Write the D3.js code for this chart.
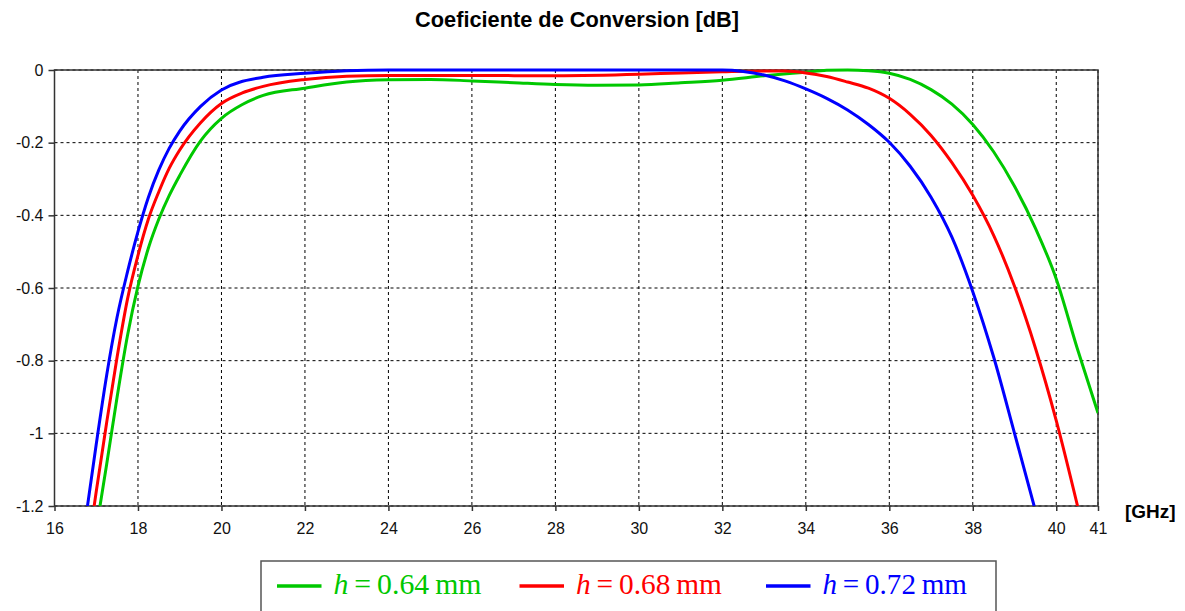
<!DOCTYPE html>
<html><head><meta charset="utf-8">
<script src="https://cdn.jsdelivr.net/npm/d3@7"></script>
<style>body{margin:0;background:#fff}svg{display:block}</style>
</head><body>
<svg id="c" width="1185" height="611"></svg>
<script>
const title = "Coeficiente de Conversion [dB]";
const xUnit = "[GHz]";
const xTicks = [16,18,20,22,24,26,28,30,32,34,36,38,40,41];
const yTicks = [0,-0.2,-0.4,-0.6,-0.8,-1,-1.2];
const seriesNames = ["0.64","0.68","0.72"];
const seriesColors = ["#00c800","#ff0000","#0000ff"];

const freqGreen = [17.09,17.25,17.5,17.75,18.0,18.25,18.5,18.75,19.0,19.5,20,20.5,21,22,23,24,25,26,27,28,29,30,31,32,33,34,34.5,35,35.5,36,36.5,37,37.5,38,38.5,39,39.5,40,40.5,41];
const valGreen  = [-1.2,-1.085,-0.9,-0.73,-0.595,-0.49,-0.41,-0.345,-0.29,-0.195,-0.133,-0.095,-0.07,-0.05,-0.033,-0.027,-0.026,-0.03,-0.035,-0.04,-0.042,-0.041,-0.035,-0.028,-0.016,-0.006,-0.001,0,-0.002,-0.009,-0.026,-0.054,-0.094,-0.15,-0.225,-0.32,-0.435,-0.575,-0.765,-0.944];

const freqRed = [16.95,17.0,17.25,17.5,17.75,18.0,18.25,18.5,18.75,19.0,19.5,20,20.5,21,22,23,24,26,28,30,31,32,33,33.5,34,34.5,35,35.5,36,36.5,37,37.5,38,38.5,39,39.5,40,40.51];
const valRed  = [-1.2,-1.16,-0.97,-0.79,-0.63,-0.51,-0.41,-0.335,-0.27,-0.22,-0.145,-0.092,-0.063,-0.045,-0.026,-0.017,-0.015,-0.015,-0.016,-0.012,-0.008,-0.005,-0.003,-0.003,-0.008,-0.018,-0.033,-0.05,-0.078,-0.122,-0.18,-0.255,-0.345,-0.455,-0.595,-0.765,-0.965,-1.2];

const freqBlue = [16.79,17.0,17.25,17.5,17.75,18.0,18.25,18.5,18.75,19.0,19.5,20,21,22,23,24,26,28,30,31,32,32.5,33,33.5,34,34.5,35,35.5,36,36.5,37,37.5,38,38.5,39,39.47];
const valBlue  = [-1.2,-1.03,-0.84,-0.68,-0.555,-0.445,-0.35,-0.275,-0.215,-0.168,-0.1,-0.055,-0.02,-0.009,-0.002,0,0,0,0,0,0,-0.004,-0.014,-0.03,-0.052,-0.078,-0.11,-0.15,-0.199,-0.265,-0.35,-0.46,-0.61,-0.79,-1.0,-1.2];

const series = [
  {name: seriesNames[0], color: seriesColors[0], f: freqGreen, v: valGreen},
  {name: seriesNames[1], color: seriesColors[1], f: freqRed, v: valRed},
  {name: seriesNames[2], color: seriesColors[2], f: freqBlue, v: valBlue}
];

const svg = d3.select("#c");
const L = 54.5, R = 1098, T = 70, B = 506;
const x = d3.scaleLinear().domain([16,41]).range([L,R]);
const y = d3.scaleLinear().domain([0,-1.2]).range([T,B]);

function fitWidth(sel, target){
  const w = sel.node().getComputedTextLength();
  const fs = parseFloat(sel.attr("font-size"));
  sel.attr("font-size", fs*target/w);
}

// title
const tt = svg.append("text").attr("x",577).attr("y",27).attr("text-anchor","middle")
  .attr("font-family","Liberation Sans, Arial, sans-serif").attr("font-weight","bold")
  .attr("font-size",18).attr("fill","#000").text(title);
fitWidth(tt, 324);

// grid
const grid = svg.append("g");
grid.selectAll("line.gx").data(xTicks).join("line").attr("class","gx")
  .attr("x1",d=>x(d)).attr("x2",d=>x(d)).attr("y1",T).attr("y2",B)
  .attr("stroke","#000").attr("stroke-width",1).attr("stroke-dasharray","3,3");
grid.selectAll("line.gy").data(yTicks).join("line").attr("class","gy")
  .attr("x1",L).attr("x2",R).attr("y1",d=>y(d)).attr("y2",d=>y(d))
  .attr("stroke","#000").attr("stroke-width",1).attr("stroke-dasharray","3,3");

// axes
const fmt = d => d===0 ? "0" : String(d);
const xAxis = svg.append("g").attr("transform",`translate(0,${B})`)
  .call(d3.axisBottom(x).tickValues(xTicks).tickFormat(fmt).tickSize(5).tickPadding(12));
const yAxis = svg.append("g").attr("transform",`translate(${L},0)`)
  .call(d3.axisLeft(y).tickValues(yTicks).tickFormat(fmt).tickSize(6).tickPadding(5));
[xAxis,yAxis].forEach(a=>{
  a.select(".domain").remove();
  a.selectAll(".tick line").attr("stroke","#333").attr("stroke-width",1.5);
  a.selectAll("text").attr("font-family","Liberation Sans, Arial, sans-serif")
   .attr("font-size",16).attr("fill","#111");
});

// frame
svg.append("rect").attr("x",L).attr("y",T).attr("width",R-L).attr("height",B-T)
  .attr("fill","none").attr("stroke","#333").attr("stroke-width",1.5);

// clip
svg.append("clipPath").attr("id","clip").append("rect")
  .attr("x",L).attr("y",T-3).attr("width",R-L).attr("height",B-T+3);

const line = d3.line().x(d=>x(d[0])).y(d=>y(d[1])).curve(d3.curveMonotoneX);
svg.append("g").attr("clip-path","url(#clip)").selectAll("path").data(series).join("path")
  .attr("d", s => line(s.f.map((f,i)=>[f, s.v[i]])))
  .attr("fill","none").attr("stroke",s=>s.color).attr("stroke-width",3)
  .attr("stroke-linejoin","round");

// x unit
svg.append("text").attr("x",1125).attr("y",518)
  .attr("font-family","Liberation Sans, Arial, sans-serif").attr("font-weight","bold")
  .attr("font-size",19).attr("fill","#000").text(xUnit);

// legend
svg.append("rect").attr("x",261).attr("y",561).attr("width",735).attr("height",70)
  .attr("fill","#fff").attr("stroke","#555").attr("stroke-width",1.5);
const legX = [277, 519.5, 766];
const legTextW = [148, 146, 144.5];
series.forEach((s,i)=>{
  svg.append("line").attr("x1",legX[i]).attr("x2",legX[i]+44.5).attr("y1",586).attr("y2",586)
    .attr("stroke",s.color).attr("stroke-width",3.5);
  const t = svg.append("text").attr("x",legX[i]+56.5).attr("y",594)
    .attr("font-family","Liberation Serif, Times New Roman, serif")
    .attr("font-size",27).attr("fill",s.color);
  t.append("tspan").attr("font-style","italic").text("h");
  t.append("tspan").text("\u2009=\u2009" + s.name + "\u2009mm");
  fitWidth(t, legTextW[i]);
});
</script>
</body></html>
